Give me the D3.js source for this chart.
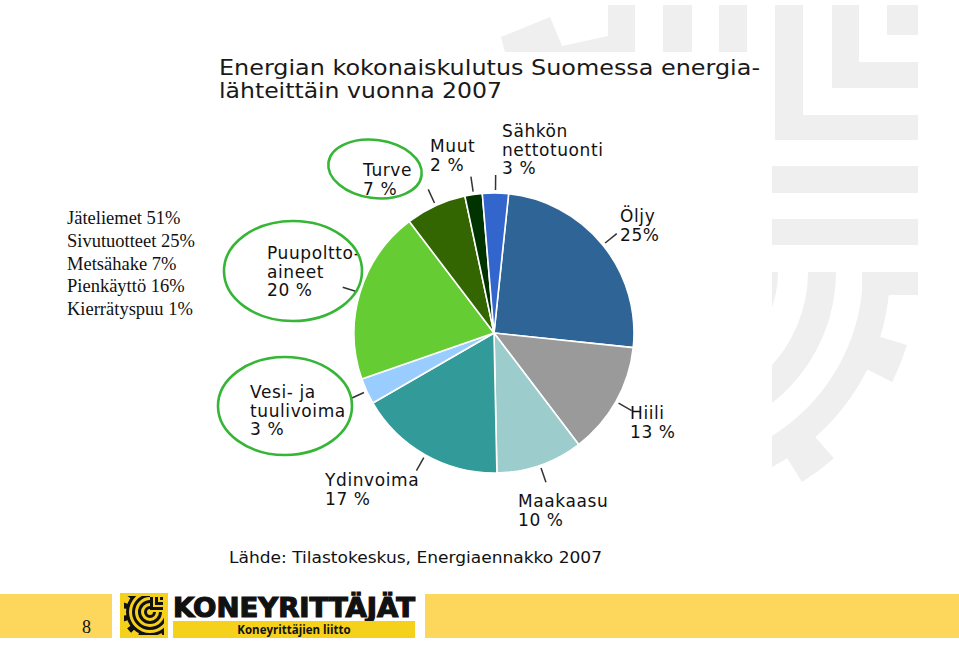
<!DOCTYPE html>
<html>
<head>
<meta charset="utf-8">
<script src="https://cdn.jsdelivr.net/npm/d3@7"></script>
<style>
  html, body { margin: 0; padding: 0; background: #fff; }
  svg { display: block; }
</style>
</head>
<body>
<svg id="slide" width="959" height="645"></svg>
<script>
// ---------- DATA ----------
const categories = ["Öljy", "Hiili", "Maakaasu", "Ydinvoima", "Vesi- ja tuulivoima",
                    "Puupolttoaineet", "Turve", "Muut", "Sähkön nettotuonti"];
const values = [25, 13, 10, 17, 3, 20, 7, 2, 3];
const colors = ["#2f6596", "#9a9a9a", "#9ccccc", "#339a9a", "#99ccff",
                "#66cc33", "#336600", "#003300", "#3366cc"];
const labelLines = [["Öljy", "25%"], ["Hiili", "13 %"], ["Maakaasu", "10 %"],
                    ["Ydinvoima", "17 %"], ["Vesi- ja", "tuulivoima", "3 %"],
                    ["Puupoltto-", "aineet", "20 %"], ["Turve", "7 %"],
                    ["Muut", "2 %"], ["Sähkön", "nettotuonti", "3 %"]];
const titleLines = ["Energian kokonaiskulutus Suomessa energia-", "lähteittäin vuonna 2007"];
const sourceText = "Lähde: Tilastokeskus, Energiaennakko 2007";
const sideNotes = ["Jäteliemet 51%", "Sivutuotteet 25%", "Metsähake 7%", "Pienkäyttö 16%", "Kierrätyspuu 1%"];
const highlighted = ["Turve", "Puupolttoaineet", "Vesi- ja tuulivoima"];
const pageNumber = "8";

// ---------- LAYOUT ----------
const pieCenter = {x: 494, y: 333};
const pieRadius = 140;
const startDeg = 6;
// label anchor (x, first baseline) for each category
const labelPos = [[620, 222], [630, 419], [518, 507], [325, 486], [250, 398],
                  [267, 259], [363, 176], [430, 152], [502, 137]];
// highlight ellipses (cx, cy, rx, ry, rotation) in order of `highlighted`
const ellipseGeom = [[375, 169, 47, 29, 8], [293, 271, 69, 50, 0], [285, 406, 67, 49, 0]];

const svg = d3.select("#slide");
svg.append("rect").attr("width", 959).attr("height", 645).attr("fill", "#fff");
const defs = svg.append("defs");

// ---------- background watermark ----------
const wm = svg.append("g").attr("fill", "#efefef");
wm.append("polygon").attr("points", "501,37 550,17 562,46 608,36 608,5 635,5 635,60 507,60");
[[663, 692], [719, 747]].forEach(([a, b]) => wm.append("rect").attr("x", a).attr("y", 5).attr("width", b - a).attr("height", 60));
wm.append("path").attr("d", "M775,5 H803 V115 H918 V140 H775 Z");
wm.append("path").attr("d", "M832,5 H859 V62 H918 V88 H832 Z");
wm.append("rect").attr("x", 887).attr("y", 5).attr("width", 31).attr("height", 30);
wm.append("rect").attr("x", 772).attr("y", 166).attr("width", 146).attr("height", 27);
wm.append("rect").attr("x", 772).attr("y", 219).attr("width", 146).attr("height", 26);
defs.append("clipPath").attr("id", "wmclip").append("rect")
  .attr("x", 772).attr("y", 272).attr("width", 146).attr("height", 240);
const gearClip = wm.append("g").attr("clip-path", "url(#wmclip)");
const gearG = gearClip.append("g").attr("transform", "translate(670,272)");
const wArc = d3.arc();
[[82, 108], [138, 166], [193, 220]].forEach(([r0, r1]) => {
  gearG.append("path").attr("d", wArc({innerRadius: r0, outerRadius: r1, startAngle: Math.PI / 2, endAngle: Math.PI}));
});
gearG.append("rect").attr("x", 192).attr("y", 0).attr("width", 60).attr("height", 23);
[1.95, 2.5].forEach(a => {
  gearG.append("path").attr("d", wArc({innerRadius: 210, outerRadius: 248, startAngle: a - 0.08, endAngle: a + 0.08}));
});

// chart image white area
svg.append("rect").attr("x", 140).attr("y", 52).attr("width", 622).attr("height", 496).attr("fill", "#fff");

// ---------- title ----------
const title = svg.append("g").attr("font-family", "DejaVu Sans, Verdana, sans-serif")
  .attr("font-size", 20.5).attr("fill", "#1a1a1a");
title.append("text").attr("x", 219).attr("y", 75).text(titleLines[0])
  .attr("textLength", 541).attr("lengthAdjust", "spacingAndGlyphs");
title.append("text").attr("x", 219).attr("y", 98).text(titleLines[1])
  .attr("textLength", 283).attr("lengthAdjust", "spacingAndGlyphs");

// ---------- pie ----------
const deg = Math.PI / 180;
const pie = d3.pie().sort(null).value(d => d.value)
  .startAngle(startDeg * deg).endAngle((startDeg + 360) * deg);
const data = categories.map((c, i) => ({cat: c, value: values[i], color: colors[i], lines: labelLines[i], pos: labelPos[i]}));
const arcs = pie(data);
const arc = d3.arc().innerRadius(0).outerRadius(pieRadius);
const pieG = svg.append("g").attr("transform", `translate(${pieCenter.x},${pieCenter.y})`);
pieG.selectAll("path.slice").data(arcs).join("path")
  .attr("class", "slice")
  .attr("d", arc)
  .attr("fill", d => d.data.color)
  .attr("stroke", "#fff").attr("stroke-width", 1.6).attr("stroke-linejoin", "round");

const inner = d3.arc().innerRadius(pieRadius + 3).outerRadius(pieRadius + 3);
const outer = d3.arc().innerRadius(pieRadius + 18).outerRadius(pieRadius + 18);
pieG.selectAll("line.leader").data(arcs).join("line")
  .attr("class", "leader")
  .each(function(d) {
    const m = {startAngle: (d.startAngle + d.endAngle) / 2, endAngle: (d.startAngle + d.endAngle) / 2};
    const p0 = inner.centroid(m), p1 = outer.centroid(m);
    d3.select(this).attr("x1", p0[0]).attr("y1", p0[1]).attr("x2", p1[0]).attr("y2", p1[1]);
  })
  .attr("stroke", "#333").attr("stroke-width", 1.5);

const labG = svg.append("g").attr("font-family", "DejaVu Sans, Verdana, sans-serif")
  .attr("font-size", 17).attr("letter-spacing", 0.6).attr("fill", "#111");
data.forEach(d => {
  const t = labG.append("text").attr("x", d.pos[0]).attr("y", d.pos[1]);
  d.lines.forEach((ln, j) => {
    t.append("tspan").attr("x", d.pos[0]).attr("dy", j === 0 ? 0 : 18.5).text(ln);
  });
});

svg.append("g").selectAll("ellipse").data(highlighted.map((h, i) => ({cat: h, g: ellipseGeom[i]})))
  .join("ellipse")
  .attr("cx", d => d.g[0]).attr("cy", d => d.g[1])
  .attr("rx", d => d.g[2]).attr("ry", d => d.g[3])
  .attr("transform", d => `rotate(${d.g[4]},${d.g[0]},${d.g[1]})`)
  .attr("fill", "none").attr("stroke", "#36b536").attr("stroke-width", 2.6);

svg.append("text").attr("x", 229).attr("y", 563)
  .attr("font-family", "DejaVu Sans, Verdana, sans-serif").attr("font-size", 16)
  .attr("fill", "#111").attr("textLength", 373).attr("lengthAdjust", "spacingAndGlyphs")
  .text(sourceText);

const sn = svg.append("g").attr("font-family", "Liberation Serif, Times New Roman, serif")
  .attr("font-size", 18.5).attr("fill", "#111");
sideNotes.forEach((s, i) => sn.append("text").attr("x", 67).attr("y", 224 + i * 22.8).text(s));

// ---------- footer ----------
svg.append("rect").attr("x", 0).attr("y", 594).attr("width", 112).attr("height", 44).attr("fill", "#fdd75c");
svg.append("rect").attr("x", 425).attr("y", 594).attr("width", 534).attr("height", 44).attr("fill", "#fdd75c");
svg.append("text").attr("x", 82).attr("y", 633).attr("font-family", "Liberation Serif, serif")
  .attr("font-size", 18).attr("fill", "#111").text(pageNumber);

svg.append("rect").attr("x", 120).attr("y", 593).attr("width", 48).attr("height", 45).attr("fill", "#f6d11c");
defs.append("clipPath").attr("id", "logoclip").append("rect")
  .attr("x", 124).attr("y", 596).attr("width", 40).attr("height", 39);
const icon = svg.append("g").attr("clip-path", "url(#logoclip)").attr("fill", "#111");
const iconG = icon.append("g").attr("transform", "translate(150,612)");
[[3, 6], [9, 12], [15, 18], [21, 24]].forEach(([r0, r1]) => {
  iconG.append("path").attr("d", wArc({innerRadius: r0, outerRadius: r1, startAngle: Math.PI, endAngle: 2 * Math.PI}));
  iconG.append("path").attr("d", wArc({innerRadius: r0, outerRadius: r1, startAngle: Math.PI / 2, endAngle: Math.PI}));
});
d3.range(0, 9).forEach(k => {
  const a = Math.PI / 2 + k * Math.PI / 6.5;
  iconG.append("path").attr("d", wArc({innerRadius: 22, outerRadius: 28, startAngle: a - 0.11, endAngle: a + 0.11}));
});
icon.append("path").attr("d", "M150,597 H153 V607 H163 V610 H150 Z M155,597 H158 V602 H163 V605 H155 Z M160,597 H163 V600 H160 Z");
svg.append("text").attr("x", 173).attr("y", 617)
  .attr("font-family", "DejaVu Sans, sans-serif").attr("font-weight", 900).attr("font-size", 26)
  .attr("fill", "#111").attr("textLength", 242).attr("lengthAdjust", "spacingAndGlyphs")
  .attr("stroke", "#111").attr("stroke-width", 1.2)
  .text("KONEYRITTÄJÄT");
svg.append("rect").attr("x", 173).attr("y", 621).attr("width", 242).attr("height", 17).attr("fill", "#f6d11c");
svg.append("text").attr("x", 294).attr("y", 634).attr("text-anchor", "middle")
  .attr("font-family", "Open Sans, DejaVu Sans, sans-serif").attr("font-weight", 700).attr("font-size", 11.5)
  .attr("fill", "#111").text("Koneyrittäjien liitto");
</script>
</body>
</html>
